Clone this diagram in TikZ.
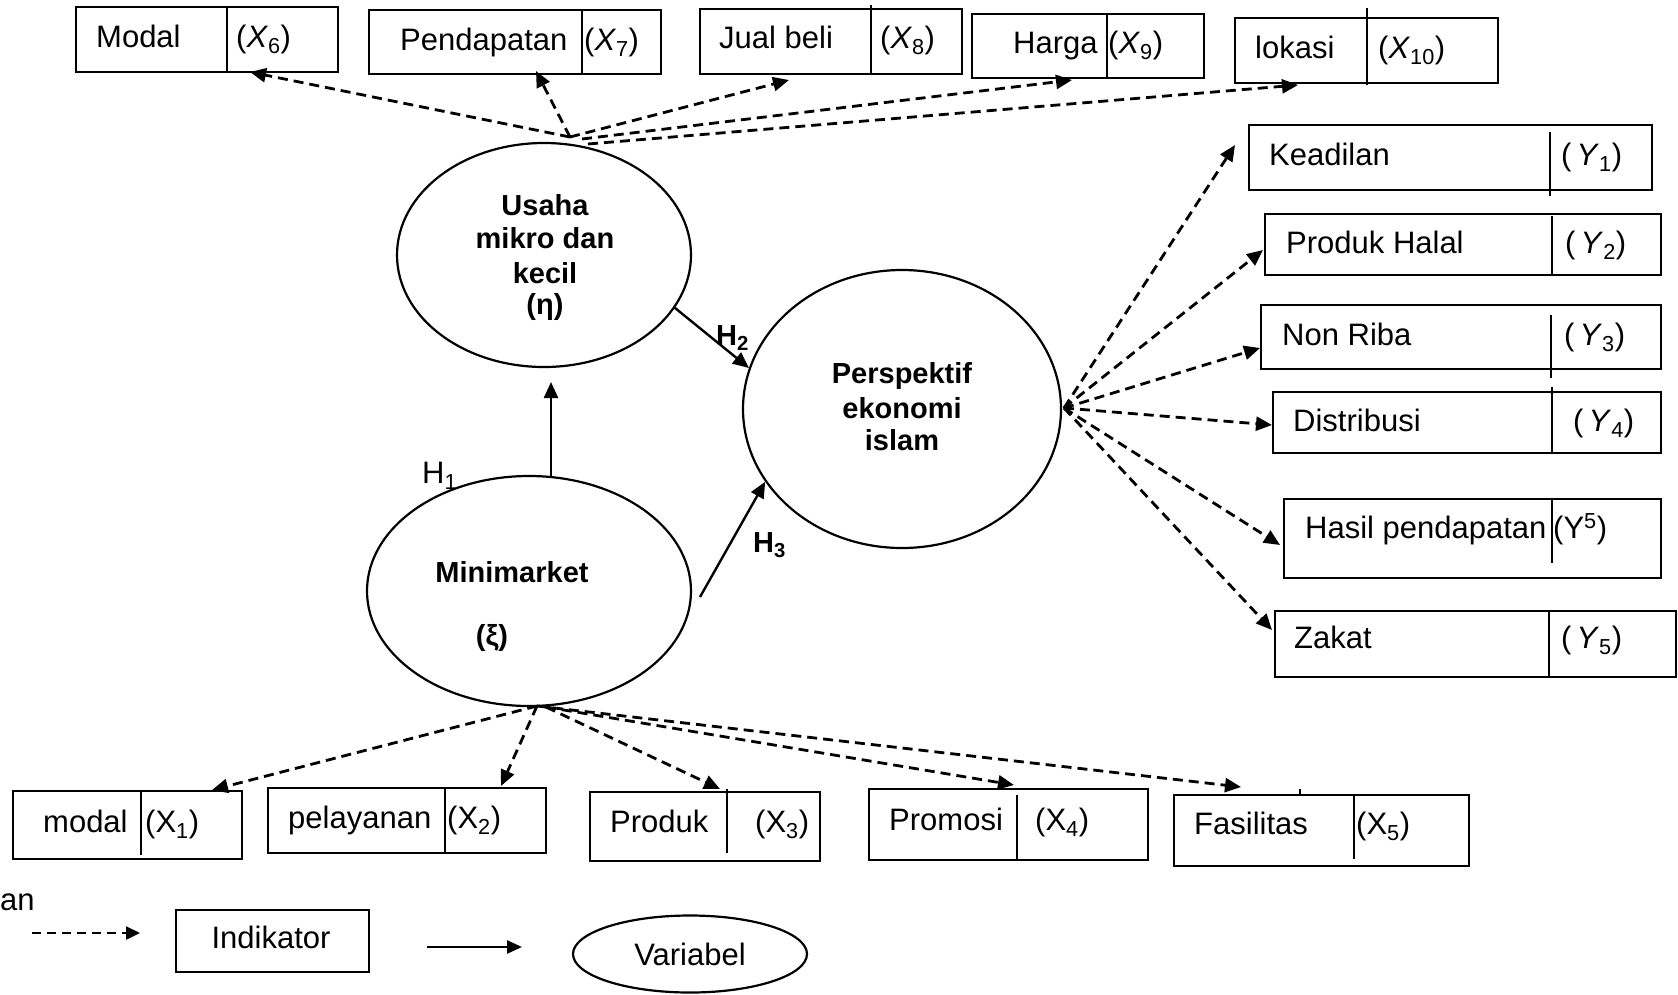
\documentclass[tikz,border=0pt]{standalone}
\usepackage{fontspec}
\setmainfont{Liberation Sans}
\usetikzlibrary{arrows.meta,shapes.geometric}
\begin{document}
\begin{tikzpicture}[x=1pt,y=-1pt,
  bx/.style={draw,line width=2.3pt,anchor=north west,inner sep=0pt},
  dv/.style={line width=1.8pt},
  lbl/.style={inner sep=0pt,anchor=base west,font=\fontsize{31}{35}\selectfont},
  ctr/.style={inner sep=0pt,anchor=base,font=\fontsize{31}{35}\selectfont},
  btxt/.style={inner sep=0pt,anchor=base,font=\fontsize{29}{33}\selectfont\bfseries},
  var/.style={draw,ellipse,line width=2.2pt,inner sep=0pt},
  ind/.style={line width=2.8pt,dash pattern=on 10pt off 6pt,-{Triangle[length=16pt,width=14pt]}},
  sol/.style={line width=2.4pt,-{Triangle[length=16pt,width=14pt]}}]
\useasboundingbox (0,0) rectangle (1678,994);

% ---------- latent variables ----------
\node[var,minimum width=294pt,minimum height=224pt] (usaha) at (544,255) {};
\node[var,minimum width=318pt,minimum height=278pt] (persp) at (902,409) {};
\node[var,minimum width=324pt,minimum height=230pt] (mini) at (529,591) {};

\node[btxt] (u1) at (545,215) {Usaha};
\node[btxt] (u2) at (545,248) {mikro dan};
\node[btxt] (u3) at (545,283) {kecil};
\node[btxt] (u4) at (545,314) {(η)};
\node[btxt] (p1) at (902,383) {Perspektif};
\node[btxt] (p2) at (902,418) {ekonomi};
\node[btxt] (p3) at (902,450) {islam};
\node[btxt] (m1) at (512,582) {Minimarket};
\node[btxt] (m2) at (492,645) {(ξ)};

% ---------- top indicators (X6-X10) ----------
\node[bx,minimum width=262pt,minimum height=65pt] (b6) at (75,6) {};
\draw[dv] (227,6) -- (227,71);
\node[lbl] (t6) at (96,47) {Modal};
\node[lbl] (s6) at (236,47) {(\textit{X}\textsubscript{6})};

\node[bx,minimum width=292pt,minimum height=64pt] (b7) at (368,9) {};
\draw[dv] (582,9) -- (582,75);
\node[lbl] (t7) at (400,50) {Pendapatan};
\node[lbl] (s7) at (584,50) {(\textit{X}\textsubscript{7})};

\node[bx,minimum width=262pt,minimum height=65pt] (b8) at (699,8) {};
\draw[dv] (871,5) -- (871,73);
\node[lbl] (t8) at (719,48) {Jual beli};
\node[lbl] (s8) at (880,48) {(\textit{X}\textsubscript{8})};

\node[bx,minimum width=232pt,minimum height=64pt] (b9) at (971,13) {};
\draw[dv] (1107,13) -- (1107,77);
\node[lbl] (t9) at (1013,53) {Harga};
\node[lbl] (s9) at (1108,53) {(\textit{X}\textsubscript{9})};

\node[bx,minimum width=263pt,minimum height=65pt] (b10) at (1234,17) {};
\draw[dv] (1367,8) -- (1367,85);
\node[lbl] (t10) at (1255,58) {lokasi};
\node[lbl] (s10) at (1378,58) {(\textit{X}\textsubscript{10})};

% ---------- right indicators (Y) ----------
\node[bx,minimum width=403pt,minimum height=65pt] (y1) at (1248,124) {};
\draw[dv] (1550,132) -- (1550,196);
\node[lbl] (ty1) at (1269,165) {Keadilan};
\node[lbl] (sy1) at (1561,165) {(\,\textit{Y}\textsubscript{1})};

\node[bx,minimum width=396pt,minimum height=61pt] (y2) at (1264,213) {};
\draw[dv] (1552,216) -- (1552,274);
\node[lbl] (ty2) at (1286,253) {Produk Halal};
\node[lbl] (sy2) at (1565,253) {(\,\textit{Y}\textsubscript{2})};

\node[bx,minimum width=400pt,minimum height=64pt] (y3) at (1260,304) {};
\draw[dv] (1551,315) -- (1551,378);
\node[lbl] (ty3) at (1282,345) {Non Riba};
\node[lbl] (sy3) at (1564,345) {(\,\textit{Y}\textsubscript{3})};

\node[bx,minimum width=388pt,minimum height=61pt] (y4) at (1272,391) {};
\draw[dv] (1552,387) -- (1552,452);
\node[lbl] (ty4) at (1293,431) {Distribusi};
\node[lbl] (sy4) at (1573,431) {(\,\textit{Y}\textsubscript{4})};

\node[bx,minimum width=377pt,minimum height=79pt] (y5h) at (1283,498) {};
\draw[dv] (1552,498) -- (1552,563);
\node[lbl] (ty5h) at (1305,538) {Hasil pendapatan};
\node[lbl] (sy5h) at (1553,538) {(Y\textsuperscript{5})};

\node[bx,minimum width=401pt,minimum height=66pt] (y5) at (1274,610) {};
\draw[dv] (1549,610) -- (1549,676);
\node[lbl] (ty5) at (1294,648) {Zakat};
\node[lbl] (sy5) at (1561,648) {(\,\textit{Y}\textsubscript{5})};

% ---------- bottom indicators (X1-X5) ----------
\node[bx,minimum width=229pt,minimum height=68pt] (x1) at (12,790) {};
\draw[dv] (141,792) -- (141,855);
\node[lbl] (tx1) at (43,832) {modal};
\node[lbl] (sx1) at (145,832) {(X\textsubscript{1})};

\node[bx,minimum width=278pt,minimum height=65pt] (x2) at (267,787) {};
\draw[dv] (445,787) -- (445,852);
\node[lbl] (tx2) at (288,828) {pelayanan};
\node[lbl] (sx2) at (447,828) {(X\textsubscript{2})};

\node[bx,minimum width=230pt,minimum height=69pt] (x3) at (589,791) {};
\draw[dv] (727,789) -- (727,853);
\node[lbl] (tx3) at (610,832) {Produk};
\node[lbl] (sx3) at (755,832) {(X\textsubscript{3})};

\node[bx,minimum width=279pt,minimum height=71pt] (x4) at (868,788) {};
\draw[dv] (1017,795) -- (1017,860);
\node[lbl] (tx4) at (889,830) {Promosi};
\node[lbl] (sx4) at (1035,830) {(X\textsubscript{4})};

\node[bx,minimum width=295pt,minimum height=71pt] (x5) at (1173,794) {};
\draw[dv] (1354,796) -- (1354,859);
\draw[dv] (1300,789) -- (1300,794);
\node[lbl] (tx5) at (1194,834) {Fasilitas};
\node[lbl] (sx5) at (1356,834) {(X\textsubscript{5})};

% ---------- connector end points ----------
\coordinate (tp) at (570,137);
\coordinate (tp2) at (582,139);
\coordinate (tp3) at (588,144);
\coordinate (e6) at (250,72);
\coordinate (e7) at (536,71);
\coordinate (e8) at (789,80);
\coordinate (e9) at (1072,80);
\coordinate (e10) at (1298,85);

\coordinate (pr) at (1064,408);
\coordinate (f1) at (1235,145);
\coordinate (f2) at (1263,250);
\coordinate (f3) at (1260,348);
\coordinate (f4) at (1272,425);
\coordinate (f5h) at (1280,545);
\coordinate (f5) at (1272,630);

\coordinate (bt) at (537,706);
\coordinate (bt2) at (546,707);
\coordinate (g1) at (212,790);
\coordinate (g2) at (501,786);
\coordinate (g3) at (720,789);
\coordinate (g4) at (1014,785);
\coordinate (g5) at (1241,787);

% ---------- dashed indicator arrows ----------
\draw[ind] (tp) -- (e6);
\draw[ind] (tp) -- (e7);
\draw[ind] (tp) -- (e8);
\draw[ind] (tp2) -- (e9);
\draw[ind] (tp3) -- (e10);

\draw[ind] (pr) -- (f1);
\draw[ind] (pr) -- (f2);
\draw[ind] (pr) -- (f3);
\draw[ind] (pr) -- (f4);
\draw[ind] (pr) -- (f5h);
\draw[ind] (pr) -- (f5);

\draw[ind] (bt) -- (g1);
\draw[ind] (bt) -- (g2);
\draw[ind] (bt2) -- (g3);
\draw[ind] (bt2) -- (g4);
\draw[ind] (bt) -- (g5);

% ---------- structural paths ----------
\coordinate (h1s) at (551,478);
\coordinate (h1e) at (551,382);
\draw[sol] (h1s) -- (h1e);
\draw[sol] (usaha.-22) -- (persp.165);
\coordinate (h3s) at (700,597);
\draw[sol] (h3s) -- (persp.208);

\node[lbl] (h1) at (422,483) {H\textsubscript{1}};
\node[lbl,font=\fontsize{29}{33}\selectfont\bfseries] (h2) at (716,345) {H\textsubscript{2}};
\node[lbl,font=\fontsize{29}{33}\selectfont\bfseries] (h3) at (753,552) {H\textsubscript{3}};

% ---------- legend ----------
\node[lbl] (ket) at (0,910) {an};
\coordinate (l1s) at (32,933);
\coordinate (l1e) at (140,933);
\draw[line width=2.4pt,dash pattern=on 9pt off 6pt,-{Triangle[length=14pt,width=13pt]}] (l1s) -- (l1e);
\node[bx,minimum width=193pt,minimum height=62pt] (lind) at (175,909) {};
\node[ctr] (lindt) at (271,948) {Indikator};
\coordinate (l2s) at (427,947);
\coordinate (l2e) at (522,947);
\draw[line width=2.6pt,-{Triangle[length=15pt,width=13pt]}] (l2s) -- (l2e);
\node[var,minimum width=234pt,minimum height=77pt] (lvar) at (690,954) {};
\node[ctr] (lvart) at (690,965) {Variabel};
\end{tikzpicture}
\end{document}
